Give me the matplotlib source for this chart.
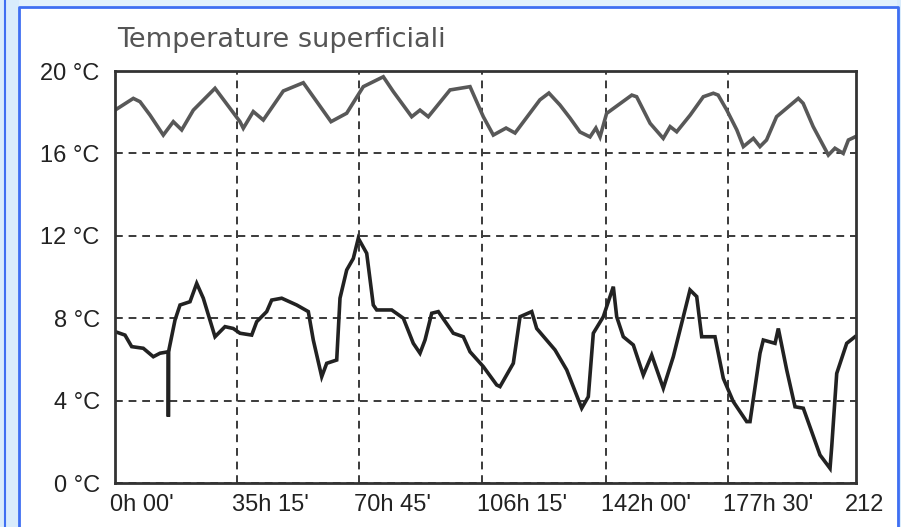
import matplotlib
matplotlib.use("Agg")
import matplotlib.pyplot as plt
import matplotlib.transforms as mtransforms
from matplotlib.patches import Rectangle
from matplotlib.lines import Line2D

# ── data (hours, °C)
upper_h = [0, 5.3, 7.24, 10.13, 13.98, 16.88, 19.31, 22.67, 28.95, 36.18, 37.14,
           40.03, 42.93, 48.72, 54.51, 62.53, 67.07, 71.88, 77.67, 80.56, 85.89,
           88.29, 90.69, 96.98, 102.77, 106.62, 109.51, 113.2, 115.8, 123.0, 125.6,
           128.8, 131.7, 134.6, 137.5, 139.2, 140.4, 142.3, 149.6, 151.0, 154.9,
           158.7, 160.7, 162.6, 166.5, 170.3, 173.2, 174.6, 177.1, 180.0, 181.9,
           184.8, 186.7, 188.6, 191.5, 197.8, 199.2, 202.1, 206.5, 208.4, 210.8,
           212.3, 214.2]
upper_t = [18.1, 18.67, 18.51, 17.86, 16.89, 17.54, 17.14, 18.1, 19.16, 17.54, 17.22,
           18.03, 17.62, 19.03, 19.43, 17.54, 17.95, 19.24, 19.72, 19.0, 17.78,
           18.1, 17.78, 19.08, 19.24, 17.78, 16.89, 17.23, 16.99, 18.6, 18.93,
           18.35, 17.72, 17.04, 16.8, 17.23, 16.8, 17.94, 18.83, 18.75, 17.46,
           16.73, 17.3, 17.05, 17.86, 18.75, 18.92, 18.83, 18.1, 17.14, 16.33,
           16.73, 16.33, 16.65, 17.78, 18.67, 18.43, 17.3, 15.92, 16.25, 16.0,
           16.65, 16.8]

lower_h = [0, 2.89, 4.83, 8.19, 11.09, 13.03, 15.43, 15.45, 15.5, 17.37, 18.82,
           21.71, 23.65, 25.56, 28.95, 31.84, 34.24, 36.18, 39.57, 41.02, 43.91,
           45.36, 48.26, 52.6, 55.96, 57.4, 59.84, 61.28, 64.18, 65.13, 67.07,
           68.98, 70.43, 72.86, 74.77, 75.76, 80.1, 83.46, 86.35, 88.29, 89.74,
           91.68, 93.59, 97.93, 100.83, 102.77, 106.62, 110.49, 111.45, 115.3,
           117.24, 120.63, 122.07, 127.37, 130.76, 135.1, 137.01, 138.46, 141.35,
           144.25, 145.23, 147.14, 150.04, 152.93, 155.36, 158.72, 161.61, 164.51,
           166.45, 168.39, 169.83, 173.68, 176.09, 178.98, 182.86, 183.82, 186.71,
           187.67, 191.06, 192.01, 194.44, 196.85, 199.25, 204.08, 206.98, 207.47,
           208.92, 211.81, 214.21]
lower_t = [7.35, 7.18, 6.62, 6.54, 6.13, 6.3, 6.37, 3.22, 6.37, 7.91, 8.64,
           8.8, 9.69, 8.97, 7.1, 7.59, 7.5, 7.27, 7.18, 7.83, 8.32,
           8.88, 8.97, 8.64, 8.32, 6.94, 5.16, 5.81, 5.97, 8.97, 10.34,
           10.9, 11.88, 11.15, 8.64, 8.4, 8.4, 8.0, 6.78, 6.3, 6.94,
           8.24, 8.32, 7.27, 7.1, 6.37, 5.65, 4.76, 4.68, 5.81,
           8.07, 8.32, 7.5, 6.46, 5.49, 3.63, 4.19, 7.27, 8.07,
           9.53, 8.07, 7.1, 6.7, 5.24, 6.21, 4.6, 6.13, 8.07,
           9.37, 9.05, 7.1, 7.1, 5.08, 3.95, 2.98, 2.98, 6.3,
           6.94, 6.78, 7.5, 5.49, 3.7, 3.63, 1.36, 0.71, 1.76,
           5.32, 6.78, 7.1]

x_ticks = [0, 35.25, 70.75, 106.25, 142.0, 177.5, 212.75]
x_labels = ["0h 00'", "35h 15'", "70h 45'", "106h 15'", "142h 00'", "177h 30'", "212"]
y_ticks = [0, 4, 8, 12, 16, 20]
y_labels = ["0 °C", "4 °C", "8 °C", "12 °C", "16 °C", "20 °C"]

W, H = 901, 527
fig = plt.figure(figsize=(W / 100, H / 100), dpi=100)
fig.patch.set_facecolor("white")


def px(x0, y0, w, h):
    # pixel box (top-left origin) -> figure fraction
    return (x0 / W, 1 - (y0 + h) / H, w / W, h / H)


# ── window frame
for box, col in [
    (px(0, 0, 19, H), "#d9ecfc"),
    (px(19, 0, 878, 6), "#e2f1fd"),
    (px(897, 0, 4, H), "#d9ecfc"),
]:
    fig.patches.append(Rectangle(box[:2], box[2], box[3], transform=fig.transFigure,
                                 facecolor=col, edgecolor="none", zorder=-5))
blue = "#3f6ff2"
fig.lines.append(Line2D([4.5 / W, 4.5 / W], [0, 1], transform=fig.transFigure, color=blue, lw=1.5))
fig.lines.append(Line2D([18.5 / W, 18.5 / W, 897.5 / W, 897.5 / W],
                        [0, 1 - 6.5 / H, 1 - 6.5 / H, 0],
                        transform=fig.transFigure, color=blue, lw=2))

# ── axes
ax = fig.add_axes(px(115, 71, 741, 412))
ax.plot(upper_h, upper_t, color="#585858", lw=2.6, solid_joinstyle="miter")
ax.plot(lower_h, lower_t, color="#222222", lw=2.6, solid_joinstyle="miter")
ax.set_xlim(0, 214.5)
ax.set_ylim(0, 20)

ax.set_yticks(y_ticks, y_labels)
ax.set_xticks(x_ticks, x_labels, ha="left")
ax.grid(True, color="#3a3a3a", ls=(0, (4, 3)), lw=1.4)
ax.xaxis.get_gridlines()[-1].set_visible(False)
ax.tick_params(length=0, labelsize=17, labelcolor="#222222")
ax.tick_params(axis="y", pad=11)
ax.tick_params(axis="x", pad=8)
for lab in ax.get_xticklabels() + ax.get_yticklabels():
    lab.set_family(["Liberation Sans", "DejaVu Sans"])
shift = mtransforms.ScaledTranslation(-5 / 100, 0, fig.dpi_scale_trans)
for lab in ax.get_xticklabels():
    lab.set_transform(lab.get_transform() + shift)
for s in ax.spines.values():
    s.set_color("#333333")
    s.set_linewidth(2)

fig.text(117 / W, 1 - 47 / H, "Temperature superficiali", fontsize=19.5,
         color="#555555", family="DejaVu Sans", va="baseline")

fig.savefig("out.png", dpi=100)
